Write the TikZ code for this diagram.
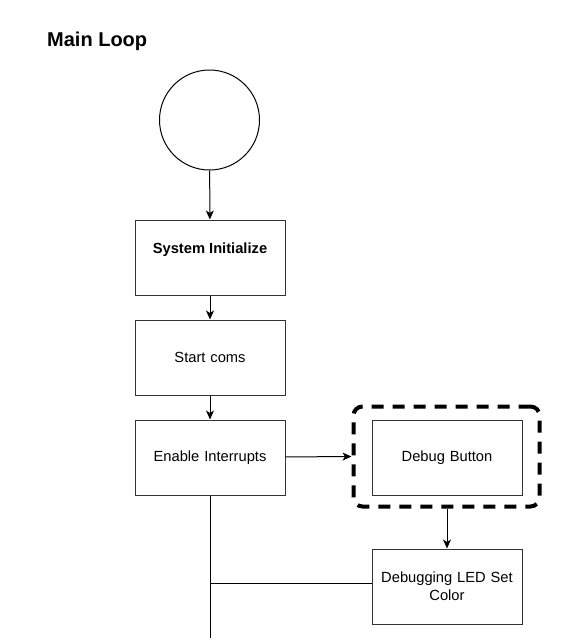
\documentclass[tikz,border=0pt]{standalone}
\usepackage{fontspec}
\setmainfont{Liberation Sans}
\usetikzlibrary{arrows.meta}
\begin{document}
\begin{tikzpicture}[x=1pt,y=-1pt,
  box/.style={draw=black!80,line width=1pt,minimum width=150pt,minimum height=75pt,inner sep=2pt,align=center,font=\fontsize{14.7}{18}\selectfont,text width=144pt},
  arr/.style={-{Stealth[length=9pt,width=8pt,inset=2.5pt]},line width=1pt},
  ln/.style={line width=1pt}]
\useasboundingbox (0,0) rectangle (582,638);
\node[font=\bfseries\fontsize{20}{24}\selectfont,anchor=west,inner sep=0pt] (title) at (47,41) {Main Loop};
\node[draw,circle,minimum size=100pt,line width=1pt,inner sep=0pt] (start) at (209.5,120) {};
\node[box] (init) at (210,257.5) {};
\node[font=\bfseries\fontsize{14.7}{18}\selectfont] (initlbl) at (210,250) {System Initialize};
\node[box] (coms) at (210,357.5) {\raisebox{-1.5pt}{Start coms}};
\node[box] (intr) at (210,457.5) {\raisebox{-1.5pt}{Enable Interrupts}};
\node[box] (dbg) at (447,457.5) {\raisebox{-1.5pt}{Debug Button}};
\node[draw,line width=4pt,dash pattern=on 12pt off 9pt,rounded corners=9pt,minimum width=186pt,minimum height=100pt] (grp) at (446.5,456.5) {};
\node[box] (led) at (447,586.5) {Debugging LED Set\\Color};
\coordinate (bot) at (210,640);
\coordinate (join) at (210,583.5);
\draw[arr] (start) -- (init);
\draw[arr] (init) -- (coms);
\draw[arr] (coms) -- (intr);
\draw[arr] (intr) -- (grp.west);
\draw[arr] (grp.south -| dbg) -- (led);
\draw[ln] (intr) -- (bot);
\draw[ln] (join) -- (led.west |- join);
\end{tikzpicture}
\end{document}
